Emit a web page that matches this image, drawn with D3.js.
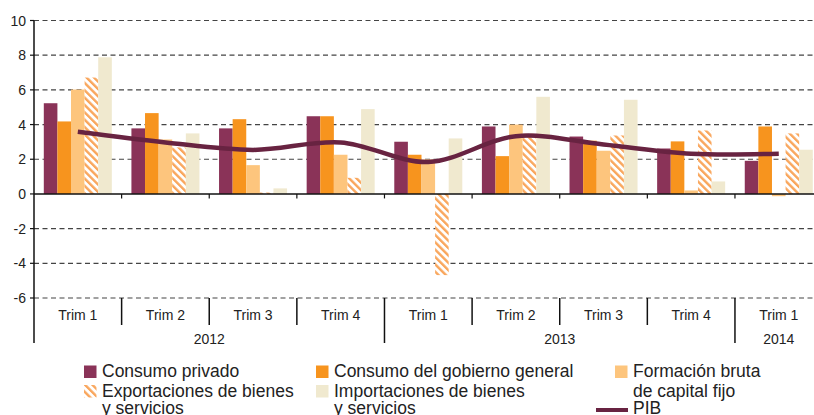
<!DOCTYPE html>
<html>
<head>
<meta charset="utf-8">
<script src="https://cdn.jsdelivr.net/npm/d3@7"></script>
<style>
  body { margin: 0; background: #fff; }
  svg { display: block; font-family: "Liberation Sans", Arial, sans-serif; }
</style>
</head>
<body>
<svg id="chart" width="814" height="415"></svg>
<script>
// data (% variation)
const quarters = ['Trim 1', 'Trim 2', 'Trim 3', 'Trim 4', 'Trim 1', 'Trim 2', 'Trim 3', 'Trim 4', 'Trim 1'];
const years = ['2012', '2013', '2014'];
const quartersPerYear = [4, 4, 1];
const consumoPrivado = [5.23, 3.78, 3.78, 4.48, 3.01, 3.89, 3.31, 2.62, 1.91];
const consumoGobierno = [4.18, 4.66, 4.31, 4.48, 2.26, 2.18, 3.07, 3.03, 3.89];
const formacionBruta = [6.02, 3.14, 1.66, 2.26, 1.99, 4.0, 2.49, 0.2, -0.13];
const exportaciones = [6.71, 2.68, 0.08, 0.93, -4.68, 3.47, 3.37, 3.66, 3.49];
const importaciones = [7.88, 3.49, 0.32, 4.89, 3.2, 5.6, 5.43, 0.72, 2.55];
const pib = [3.58, 2.97, 2.54, 2.97, 1.84, 3.33, 2.85, 2.32, 2.32];
const yTicks = [-6, -4, -2, 0, 2, 4, 6, 8, 10];

const series = [
  { name: ['Consumo privado'], values: consumoPrivado, fill: '#8a3358' },
  { name: ['Consumo del gobierno general'], values: consumoGobierno, fill: '#f7941e' },
  { name: ['Formación bruta', 'de capital fijo'], values: formacionBruta, fill: '#fdc57d' },
  { name: ['Exportaciones de bienes', 'y servicios'], values: exportaciones, fill: 'url(#hatch)' },
  { name: ['Importaciones de bienes', 'y servicios'], values: importaciones, fill: '#f0e9cf' },
];

const W = 814;
const plotLeft = 34, plotTop = 20.5, plotBottom = 298;
const bandW = 87.62;

const svg = d3.select('#chart');

const defs = svg.append('defs');
const hatch = defs.append('pattern')
  .attr('id', 'hatch')
  .attr('patternUnits', 'userSpaceOnUse')
  .attr('width', 5.2)
  .attr('height', 5.2)
  .attr('patternTransform', 'rotate(-45)');
hatch.append('rect').attr('width', 5.2).attr('height', 5.2).attr('fill', '#fff');
hatch.append('rect').attr('width', 2.4).attr('height', 5.2).attr('fill', '#f9a65c');

const y = d3.scaleLinear().domain([-6, 10]).range([plotBottom, plotTop]);
const x = d3.scaleBand()
  .domain(d3.range(quarters.length))
  .range([plotLeft, plotLeft + bandW * quarters.length]);
const xInner = d3.scaleBand()
  .domain(d3.range(series.length))
  .range([9.8, x.bandwidth() - 9.8]);

// grid lines
svg.append('g')
  .selectAll('line')
  .data(yTicks.filter((d) => d !== 0))
  .join('line')
  .attr('x1', plotLeft)
  .attr('x2', W)
  .attr('y1', (d) => y(d))
  .attr('y2', (d) => y(d))
  .attr('stroke', '#444')
  .attr('stroke-width', 1.2)
  .attr('stroke-dasharray', '5,3.5');

// bars
series.forEach((s, si) => {
  svg.append('g')
    .selectAll('rect')
    .data(s.values)
    .join('rect')
    .attr('x', (d, i) => x(i) + xInner(si))
    .attr('width', xInner.bandwidth())
    .attr('y', (d) => y(Math.max(0, d)))
    .attr('height', (d) => Math.abs(y(d) - y(0)))
    .attr('fill', s.fill);
});

// y axis
const yAxis = svg.append('g');
yAxis.append('line')
  .attr('x1', plotLeft).attr('x2', plotLeft)
  .attr('y1', plotTop).attr('y2', 343)
  .attr('stroke', '#111').attr('stroke-width', 1.5);
yAxis.selectAll('.tick')
  .data(yTicks)
  .join('line')
  .attr('class', 'tick')
  .attr('x1', plotLeft - 4).attr('x2', plotLeft)
  .attr('y1', (d) => y(d)).attr('y2', (d) => y(d))
  .attr('stroke', '#111').attr('stroke-width', 1.2);
yAxis.selectAll('text')
  .data(yTicks)
  .join('text')
  .attr('x', 26)
  .attr('y', (d) => y(d))
  .attr('dy', '0.36em')
  .attr('text-anchor', 'end')
  .attr('font-size', 14)
  .attr('fill', '#222')
  .text((d) => d);

// zero line with small ticks
svg.append('line')
  .attr('x1', plotLeft).attr('x2', W)
  .attr('y1', y(0)).attr('y2', y(0))
  .attr('stroke', '#111').attr('stroke-width', 1.5);
svg.append('g')
  .selectAll('line')
  .data(d3.range(1, quarters.length))
  .join('line')
  .attr('x1', (i) => x(i)).attr('x2', (i) => x(i))
  .attr('y1', y(0)).attr('y2', y(0) + 4.5)
  .attr('stroke', '#111').attr('stroke-width', 1.2);

// category axis below the plot
const yearEnds = d3.cumsum(quartersPerYear);
svg.append('g')
  .selectAll('line')
  .data(d3.range(1, quarters.length))
  .join('line')
  .attr('x1', (i) => x(i)).attr('x2', (i) => x(i))
  .attr('y1', plotBottom)
  .attr('y2', (i) => (yearEnds.includes(i) ? 343 : 325))
  .attr('stroke', '#111').attr('stroke-width', 1.5);

svg.append('g')
  .selectAll('text')
  .data(quarters)
  .join('text')
  .attr('x', (d, i) => x(i) + x.bandwidth() / 2)
  .attr('y', 320)
  .attr('text-anchor', 'middle')
  .attr('font-size', 14)
  .attr('fill', '#222')
  .text((d) => d);

svg.append('g')
  .selectAll('text')
  .data(years)
  .join('text')
  .attr('x', (d, i) => {
    const start = i === 0 ? 0 : yearEnds[i - 1];
    return (x(start) + x(yearEnds[i] - 1) + x.bandwidth()) / 2;
  })
  .attr('y', 343.5)
  .attr('text-anchor', 'middle')
  .attr('font-size', 14)
  .attr('fill', '#222')
  .text((d) => d);

// PIB line
const line = d3.line()
  .x((d, i) => x(i) + x.bandwidth() / 2)
  .y((d) => y(d))
  .curve(d3.curveCatmullRom.alpha(0.5));
svg.append('path')
  .datum(pib)
  .attr('d', line)
  .attr('fill', 'none')
  .attr('stroke', '#682341')
  .attr('stroke-width', 4.5);

// legend
const legendCols = [84, 316, 615];
const legendRows = [377, 396.5, 414];
const legendItems = [
  { s: series[0], col: 0, row: 0 },
  { s: series[1], col: 1, row: 0 },
  { s: series[2], col: 2, row: 0 },
  { s: series[3], col: 0, row: 1 },
  { s: series[4], col: 1, row: 1 },
];
const legend = svg.append('g');
legendItems.forEach((it) => {
  const lx = legendCols[it.col];
  const ly = legendRows[it.row];
  legend.append('rect')
    .attr('x', lx).attr('y', ly - 11.5)
    .attr('width', 12.5).attr('height', 12.5)
    .attr('fill', it.s.fill);
  it.s.name.forEach((txt, k) => {
    legend.append('text')
      .attr('x', lx + 18)
      .attr('y', legendRows[it.row + k])
      .attr('font-size', 17.5)
      .attr('fill', '#222')
      .text(txt);
  });
});
legend.append('line')
  .attr('x1', 596).attr('x2', 628)
  .attr('y1', 410).attr('y2', 410)
  .attr('stroke', '#682341').attr('stroke-width', 4);
legend.append('text')
  .attr('x', legendCols[2] + 18)
  .attr('y', legendRows[2])
  .attr('font-size', 17.5)
  .attr('fill', '#222')
  .text('PIB');
</script>
</body>
</html>
